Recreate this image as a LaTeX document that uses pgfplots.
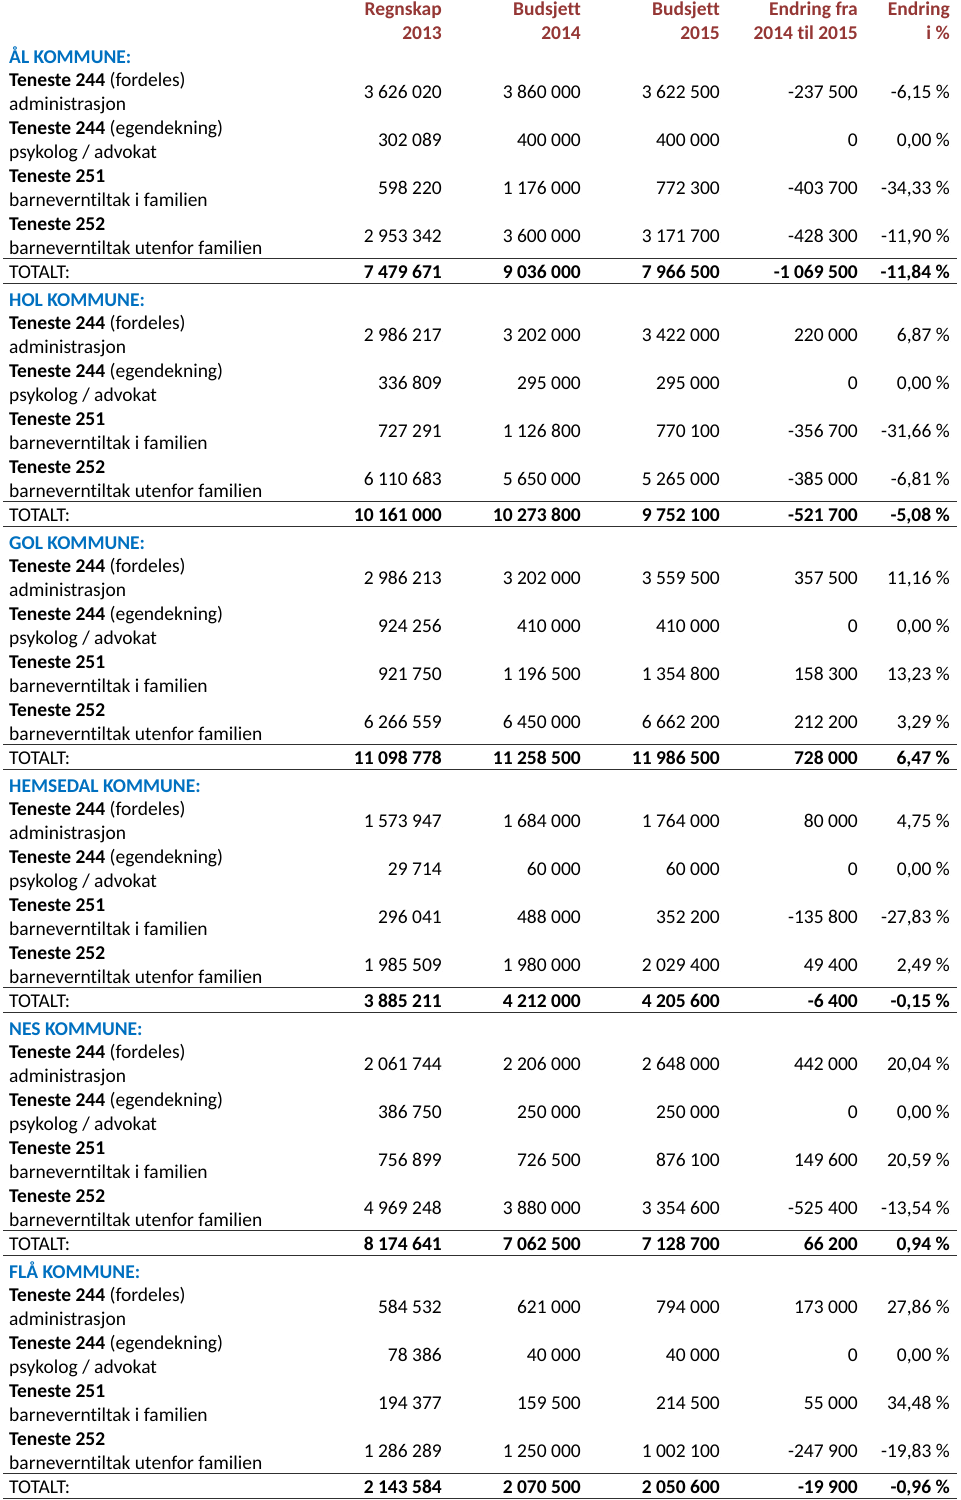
\documentclass[border=0pt]{standalone}
\usepackage{fontspec}
\setmainfont{Carlito}[Ligatures=NoCommon]
\usepackage{pgfplots}
\usepackage{pgfplotstable}
\pgfplotsset{compat=1.18}
\definecolor{hdr}{HTML}{953735}
\definecolor{ttl}{HTML}{0070C0}
\definecolor{rule}{HTML}{303030}
\pgfkeys{/pgf/number format/assume math mode=true,
  /pgf/number format/myint/.style={fixed,precision=0,use comma,1000 sep={\ }},
  /pgf/number format/mypct/.style={fixed,precision=2,zerofill,use comma,1000 sep={\ }}}

% y = vertical centre (px from top) of each row
\pgfplotstableread{
y r13 b14 b15 diff pct
91 3626020 3860000 3622500 -237500 -6.15
139 302089 400000 400000 0 0.00
187 598220 1176000 772300 -403700 -34.33
235 2953342 3600000 3171700 -428300 -11.90
334 2986217 3202000 3422000 220000 6.87
382 336809 295000 295000 0 0.00
430 727291 1126800 770100 -356700 -31.66
478 6110683 5650000 5265000 -385000 -6.81
577 2986213 3202000 3559500 357500 11.16
625 924256 410000 410000 0 0.00
673 921750 1196500 1354800 158300 13.23
721 6266559 6450000 6662200 212200 3.29
820 1573947 1684000 1764000 80000 4.75
868 29714 60000 60000 0 0.00
916 296041 488000 352200 -135800 -27.83
964 1985509 1980000 2029400 49400 2.49
1063 2061744 2206000 2648000 442000 20.04
1111 386750 250000 250000 0 0.00
1159 756899 726500 876100 149600 20.59
1207 4969248 3880000 3354600 -525400 -13.54
1306 584532 621000 794000 173000 27.86
1354 78386 40000 40000 0 0.00
1402 194377 159500 214500 55000 34.48
1450 1286289 1250000 1002100 -247900 -19.83
}\rows

\pgfplotstableread{
y r13 b14 b15 diff pct
271 7479671 9036000 7966500 -1069500 -11.84
514 10161000 10273800 9752100 -521700 -5.08
757 11098778 11258500 11986500 728000 6.47
1000 3885211 4212000 4205600 -6400 -0.15
1243 8174641 7062500 7128700 66200 0.94
1486 2143584 2070500 2050600 -19900 -0.96
}\totals

\newcommand\numcol[4]{%
\addplot[only marks, mark=*, mark size=0pt, mark options={draw=none,fill=none},
  point meta=explicit symbolic,
  nodes near coords={#4\pgfmathprintnumber[myint]{\pgfplotspointmeta}},
  every node near coord/.append style={anchor=base east, inner sep=0pt, text=black}]
  table[x expr=#2, y expr=\thisrow{y}+7.5, meta=#3] {#1};}

\newcommand\pctcol[2]{%
\addplot[only marks, mark=*, mark size=0pt, mark options={draw=none,fill=none},
  point meta=explicit symbolic,
  nodes near coords={#2\pgfmathprintnumber[mypct]{\pgfplotspointmeta}\ \%},
  every node near coord/.append style={anchor=base east, inner sep=0pt, text=black}]
  table[x expr=950, y expr=\thisrow{y}+7.5, meta=pct] {#1};}

\newcommand\block[2]{% #1 = title centre y, #2 = name
  \node[anchor=base west, inner sep=0pt, text=ttl, font=\bfseries] at (axis cs:9,#1+7.5) {#2};
  \node[anchor=base west, inner sep=0pt] at (axis cs:9,#1+30.5) {\textbf{Teneste 244} (fordeles)};
  \node[anchor=base west, inner sep=0pt] at (axis cs:9,#1+54.5) {administrasjon};
  \node[anchor=base west, inner sep=0pt] at (axis cs:9,#1+78.5) {\textbf{Teneste 244} (egendekning)};
  \node[anchor=base west, inner sep=0pt] at (axis cs:9,#1+102.5) {psykolog / advokat};
  \node[anchor=base west, inner sep=0pt] at (axis cs:9,#1+126.5) {\textbf{Teneste 251}};
  \node[anchor=base west, inner sep=0pt] at (axis cs:9,#1+150.5) {barneverntiltak i familien};
  \node[anchor=base west, inner sep=0pt] at (axis cs:9,#1+174.5) {\textbf{Teneste 252}};
  \node[anchor=base west, inner sep=0pt] at (axis cs:9,#1+198.5) {barneverntiltak utenfor familien};
  \node[anchor=base west, inner sep=0pt] at (axis cs:9,#1+222.5) {TOTALT:};
  \draw[rule, line width=1.1bp] (axis cs:3,#1+202.5) -- (axis cs:957,#1+202.5);
  \draw[rule, line width=1.1bp] (axis cs:3,#1+227.5) -- (axis cs:957,#1+227.5);
}

\newcommand\hd[3]{%
  \node[anchor=base east, inner sep=0pt, text=hdr, font=\bfseries] at (axis cs:#1,15.5) {#2};
  \node[anchor=base east, inner sep=0pt, text=hdr, font=\bfseries] at (axis cs:#1,39.5) {#3};
}

\begin{document}
\fontsize{19.5bp}{24bp}\selectfont
\begin{tikzpicture}
\begin{axis}[
  width=960bp, height=1500bp, scale only axis,
  xmin=0, xmax=960, ymin=0, ymax=1500, y dir=reverse,
  hide axis, clip=false]
\path (axis cs:0,0) rectangle (axis cs:960,1500);
\hd{442}{Regnskap}{2013}
\hd{581}{Budsjett}{2014}
\hd{720}{Budsjett}{2015}
\hd{858}{Endring fra}{2014 til 2015}
\hd{950}{Endring}{i \%}
\block{56}{ÅL KOMMUNE:}
\block{299}{HOL KOMMUNE:}
\block{542}{GOL KOMMUNE:}
\block{785}{HEMSEDAL KOMMUNE:}
\block{1028}{NES KOMMUNE:}
\block{1271}{FLÅ KOMMUNE:}
\numcol{\rows}{442}{r13}{}
\numcol{\rows}{581}{b14}{}
\numcol{\rows}{720}{b15}{}
\numcol{\rows}{858}{diff}{}
\pctcol{\rows}{}
\numcol{\totals}{442}{r13}{\bfseries}
\numcol{\totals}{581}{b14}{\bfseries}
\numcol{\totals}{720}{b15}{\bfseries}
\numcol{\totals}{858}{diff}{\bfseries}
\pctcol{\totals}{\bfseries}
\end{axis}
\end{tikzpicture}
\end{document}
